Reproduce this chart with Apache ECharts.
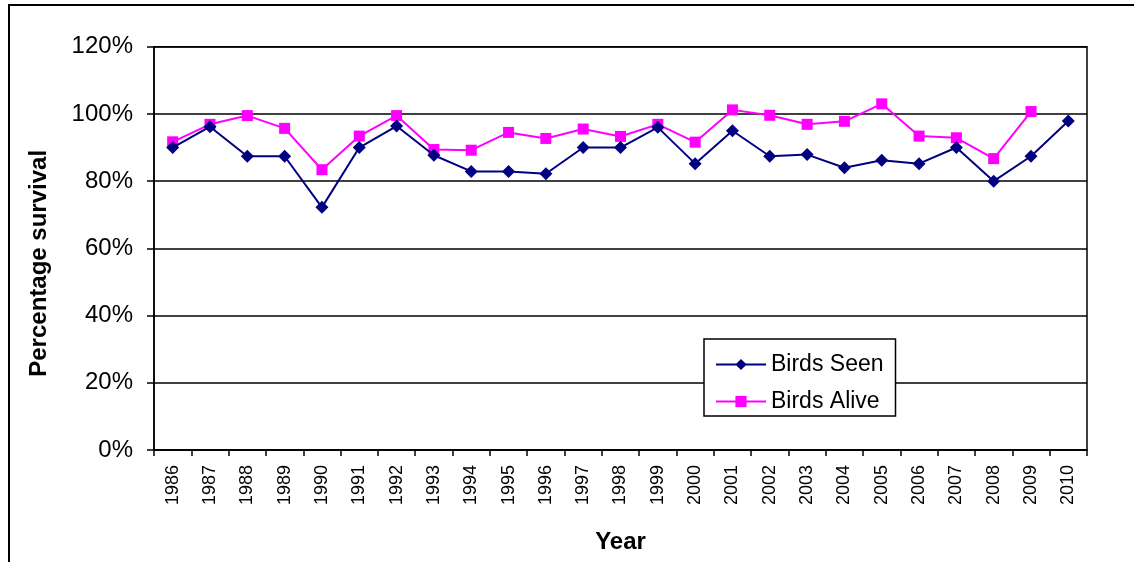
<!DOCTYPE html>
<html>
<head>
<meta charset="utf-8">
<script src="https://cdn.jsdelivr.net/npm/echarts@6/dist/echarts.min.js"></script>
<style>
  html, body { margin: 0; padding: 0; background: #fff; }
  #chart { width: 1134px; height: 562px; }
</style>
</head>
<body>
<div id="chart"></div>
<script>
// Survey years
const years = ['1986','1987','1988','1989','1990','1991','1992','1993','1994','1995','1996','1997','1998',
  '1999','2000','2001','2002','2003','2004','2005','2006','2007','2008','2009','2010'];

// Percentage of birds seen again the following year
const birdsSeen = [90.0, 96.2, 87.4, 87.4, 72.2, 90.0, 96.4, 87.7, 82.9, 82.9, 82.2, 90.0, 90.0,
  96.0, 85.2, 95.0, 87.4, 87.9, 84.0, 86.2, 85.2, 90.0, 80.0, 87.4, 97.9];

// Percentage of birds known to be alive (no estimate yet for the last year)
const birdsAlive = [91.7, 96.9, 99.5, 95.7, 83.4, 93.4, 99.5, 89.4, 89.2, 94.5, 92.7, 95.5, 93.3,
  96.9, 91.6, 101.2, 99.6, 96.9, 97.8, 103.0, 93.4, 92.9, 86.7, 100.7, null];

// Value axis ticks
const yMin = 0, yMax = 120, yStep = 20;

const FONT = '"Liberation Sans", Arial, sans-serif';

const chart = echarts.init(document.getElementById('chart'));
chart.setOption({
  backgroundColor: '#fff',
  animation: false,
  textStyle: { fontFamily: FONT, color: '#000' },
  graphic: [{
    type: 'rect',
    shape: { x: 9, y: 5, width: 1300, height: 700 },
    style: { fill: 'none', stroke: '#000', lineWidth: 2 },
    silent: true
  }],
  grid: {
    left: 154, right: 47, top: 46.7, bottom: 112,
    show: true, borderColor: '#000', borderWidth: 1.5, backgroundColor: 'transparent'
  },
  legend: {
    orient: 'vertical',
    left: 704, top: 339,
    padding: [14, 12, 3, 11],
    itemGap: 14,
    itemWidth: 50, itemHeight: 14,
    backgroundColor: '#fff',
    borderColor: '#000', borderWidth: 1.5,
    textStyle: { fontFamily: FONT, fontSize: 23, color: '#000' },
    data: ['Birds Seen', 'Birds Alive']
  },
  xAxis: {
    type: 'category',
    data: years,
    boundaryGap: true,
    name: 'Year',
    nameLocation: 'middle',
    nameGap: 80,
    nameTextStyle: { fontFamily: FONT, fontSize: 24, fontWeight: 'bold', color: '#000' },
    axisLine: { lineStyle: { color: '#000', width: 1.5 } },
    axisTick: { show: true, length: 6, lineStyle: { color: '#000', width: 1.5 } },
    axisLabel: { rotate: 90, fontSize: 18, color: '#000', margin: 15, fontFamily: FONT },
    splitLine: { show: false }
  },
  yAxis: {
    type: 'value',
    min: yMin, max: yMax, interval: yStep,
    name: 'Percentage survival',
    nameLocation: 'middle',
    nameGap: 103,
    nameRotate: 90,
    nameTextStyle: { fontFamily: FONT, fontSize: 24, fontWeight: 'bold', color: '#000', padding: [0, 30, 0, 0] },
    axisLine: { show: true, lineStyle: { color: '#000', width: 1.5 } },
    axisTick: { show: true, length: 7, lineStyle: { color: '#000', width: 1.5 } },
    axisLabel: { formatter: '{value}%', fontSize: 24, color: '#000', margin: 21, fontFamily: FONT },
    splitLine: { show: true, lineStyle: { color: '#000', width: 1.5 } }
  },
  series: [
    {
      name: 'Birds Seen',
      type: 'line',
      data: birdsSeen,
      symbol: 'diamond',
      symbolSize: 13,
      z: 3,
      lineStyle: { color: '#000080', width: 2 },
      itemStyle: { color: '#000080' }
    },
    {
      name: 'Birds Alive',
      type: 'line',
      data: birdsAlive,
      symbol: 'rect',
      symbolSize: 11,
      z: 2,
      lineStyle: { color: '#FF00FF', width: 2 },
      itemStyle: { color: '#FF00FF' }
    }
  ]
});
</script>
</body>
</html>
